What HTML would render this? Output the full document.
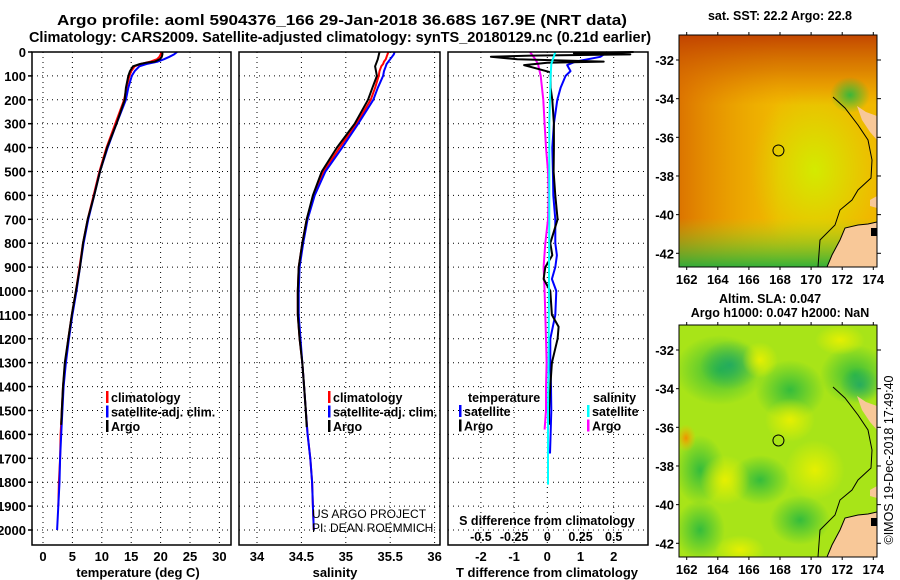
<!DOCTYPE html>
<html><head><meta charset="utf-8">
<style>
html,body{margin:0;padding:0;background:#fff;}
svg{display:block;font-family:"Liberation Sans",sans-serif;}
</style></head>
<body>
<svg id="c" width="900" height="580" viewBox="0 0 900 580">
<defs>
  <linearGradient id="gTop" x1="0" y1="0" x2="0" y2="1">
    <stop offset="0" stop-color="#c04000" stop-opacity="0.95"/>
    <stop offset="0.5" stop-color="#d06000" stop-opacity="0.6"/>
    <stop offset="1" stop-color="#e07000" stop-opacity="0"/>
  </linearGradient>
  <linearGradient id="gLeft" x1="0" y1="0" x2="1" y2="0">
    <stop offset="0" stop-color="#d86800" stop-opacity="0.85"/>
    <stop offset="1" stop-color="#e89000" stop-opacity="0"/>
  </linearGradient>
  <linearGradient id="gBot" x1="0" y1="1" x2="0" y2="0">
    <stop offset="0" stop-color="#20b040" stop-opacity="0.9"/>
    <stop offset="1" stop-color="#90e020" stop-opacity="0"/>
  </linearGradient>
  <radialGradient id="gYG"><stop offset="0" stop-color="#d0f000" stop-opacity="0.9"/><stop offset="1" stop-color="#d0f000" stop-opacity="0"/></radialGradient>
  <radialGradient id="gGr"><stop offset="0" stop-color="#28b840" stop-opacity="0.9"/><stop offset="1" stop-color="#28b840" stop-opacity="0"/></radialGradient>
  <radialGradient id="gTeal"><stop offset="0" stop-color="#10a070" stop-opacity="0.7"/><stop offset="1" stop-color="#10a070" stop-opacity="0"/></radialGradient>
  <radialGradient id="gYel"><stop offset="0" stop-color="#e8f000" stop-opacity="0.95"/><stop offset="1" stop-color="#e8f000" stop-opacity="0"/></radialGradient>
  <radialGradient id="gOr"><stop offset="0" stop-color="#f09000" stop-opacity="1"/><stop offset="1" stop-color="#f0c000" stop-opacity="0"/></radialGradient>
  <clipPath id="clipTop"><rect x="679" y="35" width="198" height="232"/></clipPath>
  <clipPath id="clipBot"><rect x="679" y="325" width="198" height="232"/></clipPath>
</defs>
</svg>
<script>
// ===== profile data (depth in m) =====
const climDepth = [0,10,20,30,40,50,60,80,100,150,200,300,400,500,600,700,800,900,1000,1100,1200,1300,1400,1500,1600,1700,1800,1900,2000];
const climT = [20.2,20.0,19.8,19.4,18.3,16.6,15.6,15.0,14.7,14.2,13.8,12.3,10.8,9.6,8.6,7.6,6.8,6.2,5.6,4.9,4.3,3.8,3.4,3.2,3.0,2.9,2.7,2.6,2.4];
const satT = [22.8,22.3,21.5,20.6,19.5,17.6,16.4,15.6,15.1,14.5,14.1,12.5,11.0,9.7,8.7,7.7,6.9,6.3,5.7,5.0,4.4,3.9,3.5,3.3,3.1,2.9,2.8,2.6,2.4];
const argoTDepth = [0,10,20,30,40,45,50,60,80,100,150,200,300,400,500,600,700,800,900,1000,1100,1200,1300,1400,1500,1560];
const argoT = [20.3,20.3,20.2,19.9,19.0,17.5,16.5,15.3,14.8,14.5,14.1,13.9,12.5,10.9,9.7,8.7,7.6,6.8,6.3,5.6,4.9,4.3,3.7,3.4,3.2,3.1];
const climS = [35.48,35.47,35.46,35.45,35.43,35.42,35.40,35.38,35.37,35.33,35.28,35.12,34.93,34.75,34.64,34.56,34.51,34.47,34.46,34.46,34.48,34.51,34.53,34.55,34.57,34.60,34.62,34.63,34.64];
const satS = [35.55,35.54,35.52,35.50,35.48,35.46,35.45,35.43,35.42,35.36,35.31,35.14,34.96,34.77,34.65,34.57,34.52,34.48,34.47,34.47,34.49,34.51,34.53,34.55,34.57,34.60,34.62,34.63,34.64];
const argoSDepth = [0,30,60,100,150,200,300,400,500,600,700,800,900,1000,1100,1200,1300,1400,1500,1570];
const argoS = [35.38,35.36,35.33,35.35,35.30,35.25,35.10,34.90,34.73,34.63,34.56,34.51,34.47,34.46,34.46,34.48,34.51,34.53,34.55,34.56];
// differences
const argoTdiffDepth = [0,5,10,15,20,30,40,45,55,70,85,100,150,200,300,400,500,600,700,800,850,900,950,1000,1100,1150,1200,1300,1400,1500,1560];
const argoTdiff = [2.6,0.8,2.5,-0.5,-1.7,-0.9,1.7,0.0,-0.7,-0.3,0.1,0.1,0.1,0.15,0.2,0.2,0.19,0.24,0.31,0.09,0.15,-0.06,-0.11,0.09,0.14,0.34,0.31,0.14,0.09,0.05,0.05];
const satTdiffDepth = [0,20,40,55,80,100,150,200,300,400,500,600,700,800,850,900,950,1000,1100,1200,1300,1400,1500,1600,1680];
const satTdiff = [1.8,1.6,0.85,0.6,0.7,0.55,0.4,0.3,0.2,0.15,0.17,0.18,0.24,0.24,0.29,0.24,0.14,0.27,0.24,0.09,0.09,0.11,0.12,0.1,0.08];
const argoSdiffDepth = [0,30,50,100,200,300,400,500,600,700,800,900,1000,1100,1200,1300,1400,1500,1580];
const argoSdiff = [-0.13,-0.09,-0.07,-0.05,-0.03,-0.02,-0.01,0.005,0.01,0.005,-0.015,-0.028,-0.02,-0.015,-0.01,-0.005,-0.01,-0.01,-0.02];
const satSdiffDepth = [0,50,100,200,300,500,700,1000,1300,1500,1700,1810];
const satSdiff = [0.06,0.03,0.025,0.02,0.015,0.015,0.015,0.012,0.01,0.005,0.005,0.005];
// tick labels
const depthTicks = [0,100,200,300,400,500,600,700,800,900,1000,1100,1200,1300,1400,1500,1600,1700,1800,1900,2000];
const tempTicks = [0,5,10,15,20,25,30];
const salTicks = [34,34.5,35,35.5,36];
const tdiffTicks = [-2,-1,0,1,2];
const sdiffTicks = [-0.5,-0.25,0,0.25,0.5];
const sdiffLabels = ["-0.5","-0.25","0","0.25","0.5"];
const lonTicks = [162,164,166,168,170,172,174];
const latTicks = [-32,-34,-36,-38,-40,-42];
const argoLon = 167.9, argoLat = -36.68;

const NS = "http://www.w3.org/2000/svg";
const svg = document.getElementById('c');
function el(tag, attrs, parent, text){
  const e = document.createElementNS(NS, tag);
  for (const k in attrs) e.setAttribute(k, attrs[k]);
  if (text !== undefined) e.textContent = text;
  (parent || svg).appendChild(e);
  return e;
}
const yTop = 52, yBot = 545;
const yD = d => 52 + d * 0.239;
const P1 = {x0:32, x1:231}, P2 = {x0:239, x1:440}, P3 = {x0:448, x1:648};
const xT = t => 43 + t * 5.88;
const xS = s => 257 + (s - 34) * 88.8;
const xTd = t => 547.3 + t * 33.2;
const xSd = s => 547.3 + s * 132.8;

function panel(P, name, vticks, xf){
  const g = el('g', {});
  
  
  const gr = el('g', {}, g);
  
  
  depthTicks.forEach(d => { if (d>0) el('line',{x1:P.x0,x2:P.x1,y1:yD(d),y2:yD(d),stroke:'#000','stroke-width':1,'stroke-dasharray':'1 4'},gr); });
  vticks.forEach(v => el('line',{x1:xf(v),x2:xf(v),y1:yTop,y2:yBot,stroke:'#000','stroke-width':1,'stroke-dasharray':'1 4'},gr));
  return g;
}
function frame(P, g){
  const r = el('rect',{x:P.x0,y:yTop,width:P.x1-P.x0,height:yBot-yTop,fill:'none',stroke:'#000','stroke-width':1.5},g);
  
  
}
function line(depths, vals, xf, color, name, g, w){
  const pts = depths.map((d,i) => xf(vals[i]).toFixed(1) + ',' + yD(d).toFixed(1)).join(' ');
  const p = el('polyline',{points:pts,fill:'none',stroke:color,'stroke-width':w||2,'stroke-linejoin':'round'},g);
  
  
}
function txt(x,y,s,opts,g){
  const a = Object.assign({x:x,y:y,'font-size':13,'font-weight':'bold',fill:'#000'},opts||{});
  return el('text',a,g,s);
}
// titles
const t1 = txt(342,25,'Argo profile: aoml 5904376_166 29-Jan-2018 36.68S 167.9E (NRT data)',{'text-anchor':'middle','font-size':15,textLength:570,lengthAdjust:'spacingAndGlyphs'});


const t2 = txt(340,42,'Climatology: CARS2009. Satellite-adjusted climatology: synTS_20180129.nc (0.21d earlier)',{'text-anchor':'middle','font-size':14.5});



function legend(x,y,items,g){
  items.forEach((it,i)=>{
    const lg = el('g',{},g);
    
    
    el('rect',{x:x,y:y+i*14.5-11,width:2.5,height:12,fill:it[1]},lg);
    txt(x+5,y+i*14.5,it[0],{'font-size':12.5},lg);
  });
}

// ---- panel 1 temperature ----
const g1 = panel(P1,'temperature-panel',tempTicks,xT);
line(climDepth.slice(0,28), climT.slice(0,28), xT, '#f00', 'temp-climatology-line', g1);
line(climDepth, satT, xT, '#00f', 'temp-satellite-line', g1);
line(argoTDepth, argoT, xT, '#000', 'temp-argo-line', g1);
frame(P1,g1);
depthTicks.forEach(d => {
  el('line',{x1:28,x2:32,y1:yD(d),y2:yD(d),stroke:'#000','stroke-width':1.5},g1);
  const l = txt(26,yD(d)+5,String(d),{'text-anchor':'end'},g1);
  
  
});
tempTicks.forEach(t => {
  const l = txt(xT(t),561,String(t),{'text-anchor':'middle'},g1);
  
  
});
const xl1 = txt(138,577,'temperature (deg C)',{'text-anchor':'middle'},g1);


legend(106,402,[['climatology','#f00'],['satellite-adj. clim.','#00f'],['Argo','#000']],g1);

// ---- panel 2 salinity ----
const g2 = panel(P2,'salinity-panel',salTicks,xS);
line(climDepth, climS, xS, '#f00', 'sal-climatology-line', g2);
line(climDepth, satS, xS, '#00f', 'sal-satellite-line', g2);
line(argoSDepth, argoS, xS, '#000', 'sal-argo-line', g2);
frame(P2,g2);
salTicks.forEach(s => {
  const l = txt(xS(s),561,String(s),{'text-anchor':'middle'},g2);
  
  
});
const xl2 = txt(335,577,'salinity',{'text-anchor':'middle'},g2);


legend(328,402,[['climatology','#f00'],['satellite-adj. clim.','#00f'],['Argo','#000']],g2);
const cr1 = txt(312,518,'US ARGO PROJECT',{'font-weight':'normal','font-size':12});


const cr2 = txt(312,532,'PI: DEAN ROEMMICH',{'font-weight':'normal','font-size':12});



// ---- panel 3 differences ----
const g3 = panel(P3,'difference-panel',tdiffTicks,xTd);
line(argoSdiffDepth, argoSdiff, xSd, '#f0f', 'sal-diff-argo-line', g3);
line(satTdiffDepth, satTdiff, xTd, '#00f', 'temp-diff-satellite-line', g3);
line(argoTdiffDepth, argoTdiff, xTd, '#000', 'temp-diff-argo-line', g3);
line(satSdiffDepth, satSdiff, xSd, '#0ff', 'sal-diff-satellite-line', g3);
frame(P3,g3);
tdiffTicks.forEach(t => {
  const l = txt(xTd(t),561,String(t),{'text-anchor':'middle'},g3);
  
  
});
sdiffTicks.forEach((s,i) => {
  const l = txt(xSd(s),541,sdiffLabels[i],{'text-anchor':'middle','font-size':12.5},g3);
  
  
});
const sl = txt(547,525,'S difference from climatology',{'text-anchor':'middle','font-size':12.5},g3);


const xl3 = txt(547,577,'T difference from climatology',{'text-anchor':'middle'},g3);


const lt = txt(468,402,'temperature',{'font-size':12.5},g3);


const ls = txt(593,402,'salinity',{'font-size':12.5},g3);


legend(459,416,[['satellite','#00f'],['Argo','#000']],g3);
legend(587,416,[['satellite','#0ff'],['Argo','#f0f']],g3);

// ---- maps ----
const lonX = l => 686.7 + (l - 162) * 15.55;
const latY = (la, off) => 60 + off + (-32 - la) * 19.33;
function mapAxes(off, g){
  const y0 = 35+off, y1 = 267+off;
  el('rect',{x:679,y:y0,width:198,height:232,fill:'none',stroke:'#000','stroke-width':1},g);
  lonTicks.forEach(l => {
    el('line',{x1:lonX(l),x2:lonX(l),y1:y0-3,y2:y0,stroke:'#000'},g);
    el('line',{x1:lonX(l),x2:lonX(l),y1:y1,y2:y1+3,stroke:'#000'},g);
    const t = txt(lonX(l),y1+17,String(l),{'text-anchor':'middle','font-size':13},g);
    
    
  });
  latTicks.forEach(la => {
    el('line',{x1:676,x2:679,y1:latY(la,off),y2:latY(la,off),stroke:'#000'},g);
    el('line',{x1:877,x2:881,y1:latY(la,off),y2:latY(la,off),stroke:'#000'},g);
    const t = txt(674,latY(la,off)+5,String(la),{'text-anchor':'end','font-size':13},g);
    
    
  });
  const m = el('circle',{cx:lonX(argoLon),cy:latY(argoLat,off),r:5.5,fill:'none',stroke:'#000','stroke-width':1},g);
  
  
}
function land(off, g){
  const o = v => v + off;
  el('polygon',{points:`827,${o(267)} 832,${o(255)} 840,${o(240)} 845,${o(228)} 858,${o(225)} 868,${o(224)} 877,${o(222)} 877,${o(267)}`,fill:'#f8c898'},g);
  el('polygon',{points:`857,${o(106)} 866,${o(112)} 877,${o(116)} 877,${o(140)} 870,${o(132)} 862,${o(120)}`,fill:'#f8c898'},g);
  el('polygon',{points:`870,${o(200)} 877,${o(196)} 877,${o(208)} 870,${o(206)}`,fill:'#f8c898'},g);
  el('polyline',{points:`833,${o(97)} 845,${o(108)} 858,${o(125)} 868,${o(140)} 872,${o(160)} 871,${o(178)} 858,${o(190)} 852,${o(200)} 840,${o(210)} 835,${o(225)} 820,${o(240)} 818,${o(267)}`,fill:'none',stroke:'#000','stroke-width':1},g);
  el('polyline',{points:`827,${o(267)} 832,${o(255)} 840,${o(240)} 845,${o(228)} 858,${o(225)} 868,${o(224)} 877,${o(222)}`,fill:'none',stroke:'#000','stroke-width':1},g);
  el('rect',{x:871,y:o(228),width:6,height:8,fill:'#000'},g);
}
// top map (SST)
const gm1 = el('g',{});


const gm1c = el('g',{'clip-path':'url(#clipTop)'},gm1);
el('rect',{x:679,y:35,width:198,height:232,fill:'#f0b800'},gm1c);
el('ellipse',{cx:815,cy:170,rx:65,ry:85,fill:'url(#gYG)'},gm1c);
el('rect',{x:679,y:35,width:100,height:232,fill:'url(#gLeft)'},gm1c);
el('rect',{x:679,y:35,width:198,height:70,fill:'url(#gTop)'},gm1c);
el('rect',{x:679,y:218,width:198,height:49,fill:'url(#gBot)'},gm1c);
el('ellipse',{cx:850,cy:95,rx:20,ry:18,fill:'url(#gGr)'},gm1c);
land(0, gm1c);
mapAxes(0, gm1);
const mt1 = txt(780,20,'sat. SST: 22.2 Argo: 22.8',{'text-anchor':'middle','font-size':12.5});


// bottom map (SLA)
const gm2 = el('g',{});


const gm2c = el('g',{'clip-path':'url(#clipBot)'},gm2);
el('rect',{x:679,y:325,width:198,height:232,fill:'#a8e418'},gm2c);
[[720,370,45,35,'gGr'],[730,365,30,25,'gTeal'],[855,375,35,30,'gGr'],[860,385,20,18,'gTeal'],[790,390,35,30,'gGr'],[700,470,25,35,'gGr'],[700,530,25,30,'gGr'],[800,520,30,25,'gGr'],[760,480,30,25,'gGr'],[725,480,25,25,'gYel'],[790,420,25,22,'gYel'],[760,360,18,18,'gYel'],[840,340,25,15,'gYel'],[740,550,25,15,'gYel'],[815,470,30,30,'gYel'],[686,438,10,14,'gOr']].forEach(b=>{
  el('ellipse',{cx:b[0],cy:b[1],rx:b[2],ry:b[3],fill:`url(#${b[4]})`},gm2c);
});
land(290, gm2c);
mapAxes(290, gm2);
const mt2 = txt(770,303,'Altim. SLA: 0.047',{'text-anchor':'middle','font-size':12.5});


const mt3 = txt(780,317,'Argo h1000: 0.047 h2000: NaN',{'text-anchor':'middle','font-size':12.5});


const cp = txt(0,0,'©IMOS 19-Dec-2018 17:49:40',{'text-anchor':'middle','font-size':12.5,'font-weight':'normal',transform:'translate(893,460) rotate(-90)'});


</script>
</body></html>
